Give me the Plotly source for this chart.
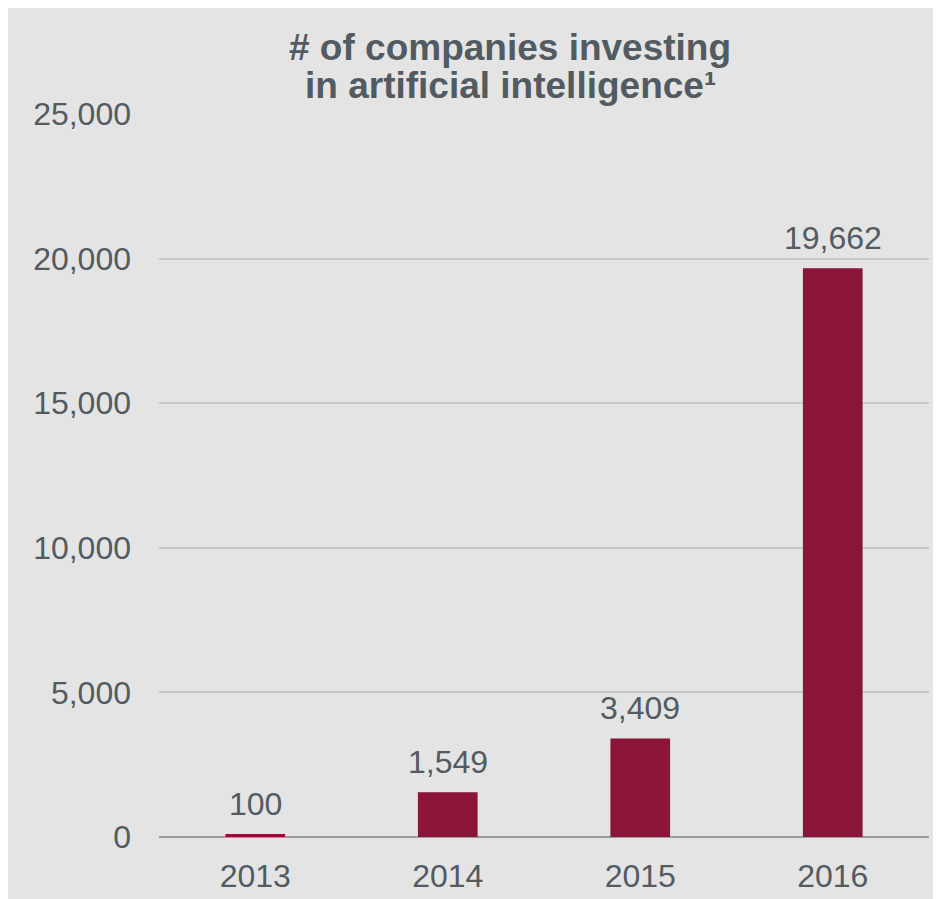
import plotly.graph_objects as go

# Datos
years = ["2013", "2014", "2015", "2016"]
companies = [100, 1549, 3409, 19662]
y_ticks = [0, 5000, 10000, 15000, 20000, 25000]
title_lines = ["# of companies investing", "in artificial intelligence¹"]

bar_color = "#8a1538"
text_color = "#525b61"
bg_color = "#e4e4e4"
font_family = "Arial, Liberation Sans, sans-serif"

fig = go.Figure(go.Bar(
    x=years,
    y=companies,
    marker=dict(color=bar_color, line=dict(width=0)),
    cliponaxis=False,
))

# Etiquetas de valor sobre cada barra (x = índice de categoría)
for i, v in enumerate(companies):
    fig.add_annotation(
        x=i, y=v, text=f"{v:,}", showarrow=False,
        xanchor="center", yanchor="bottom", yshift=10,
        font=dict(size=32, color=text_color, family=font_family),
    )

# Título en dos líneas (interlineado ajustado)
for txt, ypos in zip(title_lines, [1.0913, 1.040]):
    fig.add_annotation(
        text=f"<b>{txt}</b>", xref="paper", yref="paper",
        x=0.456, y=ypos, xanchor="center", yanchor="middle",
        showarrow=False,
        font=dict(size=37, color=text_color, family=font_family),
    )

fig.update_layout(
    width=941, height=899,
    margin=dict(l=151, r=20, t=106, b=70),
    paper_bgcolor=bg_color,
    plot_bgcolor=bg_color,
    bargap=0.69,
    showlegend=False,
    font=dict(family=font_family, color=text_color, size=32),
)

fig.update_yaxes(
    range=[0, 25000],
    tickvals=y_ticks,
    tickformat=",",
    showgrid=True, gridcolor="#c8c8c8", gridwidth=1.5,
    zeroline=True, zerolinecolor="#9a9a9a", zerolinewidth=2,
    showline=False,
    ticklabelstandoff=27,
    tickfont=dict(size=32, color=text_color),
)
fig.update_xaxes(
    type="category",
    showgrid=False, showline=False,
    ticklabelstandoff=17,
    tickfont=dict(size=32, color=text_color),
)

fig.write_html("out.html")
